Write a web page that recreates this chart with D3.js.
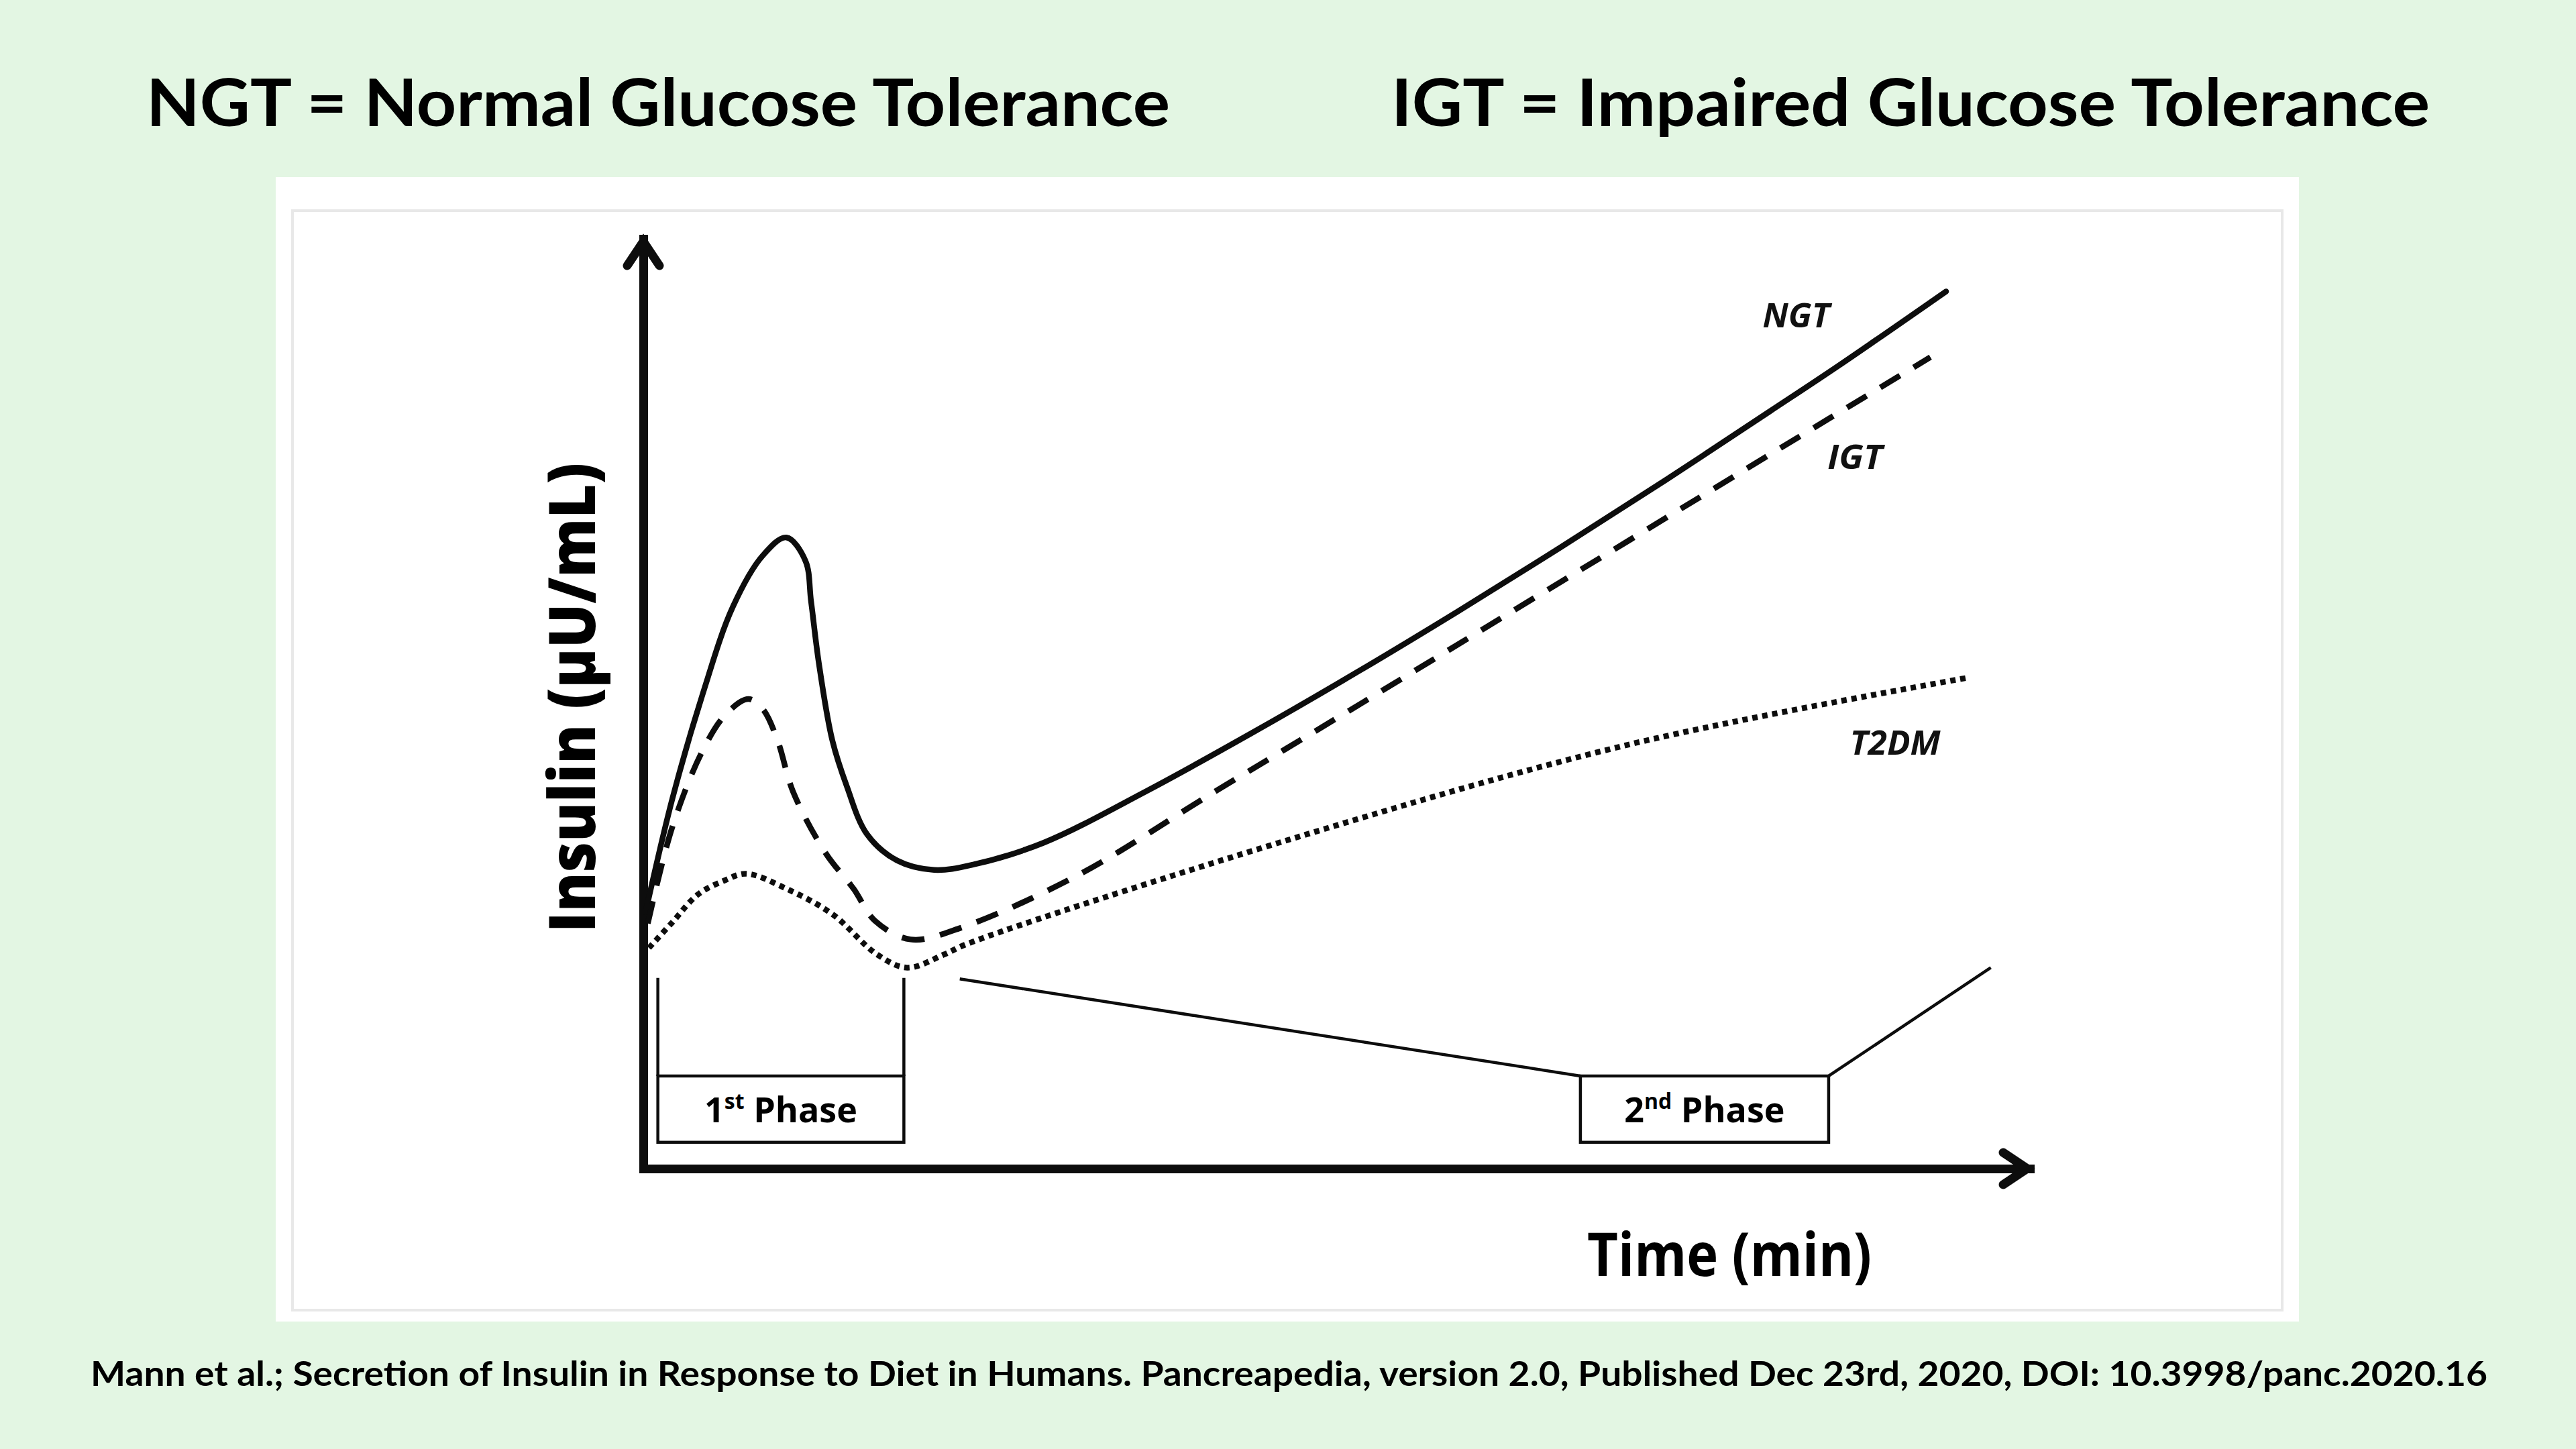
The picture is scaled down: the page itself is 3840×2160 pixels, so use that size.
<!DOCTYPE html>
<html><head><meta charset="utf-8">
<script src="https://cdn.jsdelivr.net/npm/d3@7"></script>
<style>html,body{margin:0;padding:0;background:#e3f6e3;}svg{display:block;}</style>
</head><body><svg id="c" width="3840" height="2160"></svg>
<script>
// ---------- data ----------
const titles = ["NGT = Normal Glucose Tolerance", "IGT = Impaired Glucose Tolerance"];
const yLabel = "Insulin (\u00B5U/mL)";
const xLabel = "Time (min)";
const footer = "Mann et al.; Secretion of Insulin in Response to Diet in Humans. Pancreapedia, version 2.0, Published Dec 23rd, 2020, DOI: 10.3998/panc.2020.16";
const seriesNames = ["NGT", "IGT", "T2DM"];

const ngtTime    = [0.2, 2.6, 5.3, 8.0, 10.7, 12.8, 14.5, 15.0, 15.7, 16.9, 18.2, 20.0, 22.7, 26.0, 29.6, 35.8, 45.0, 54.3, 63.6, 72.8, 82.1, 91.4, 100.7, 106.9, 116.5];
const ngtInsulin = [27.3, 39.4, 50.5, 59.8, 65.3, 67.2, 64.7, 60.4, 53.8, 45.6, 40.7, 35.6, 32.8, 31.8, 32.4, 34.7, 40.2, 46.3, 52.7, 59.3, 66.2, 73.3, 80.6, 85.5, 93.4];

const igtTime    = [0.4, 2.6, 5.3, 7.4, 9.4, 10.7, 12.0, 13.4, 16.3, 18.8, 20.7, 23.9, 28.3, 38.8, 51.2, 63.6, 76.0, 88.3, 100.7, 115.1];
const igtInsulin = [26.1, 36.4, 44.5, 48.4, 50.0, 48.9, 45.6, 40.1, 33.6, 29.8, 26.4, 24.4, 25.6, 31.2, 40.2, 49.1, 58.1, 67.0, 76.0, 86.4];

const t2dmTime    = [0.5, 2.5, 4.9, 7.3, 9.2, 12.8, 16.9, 20.9, 23.6, 26.9, 28.9, 57.4, 88.3, 118.6];
const t2dmInsulin = [23.5, 26.1, 29.2, 30.7, 31.4, 29.8, 27.1, 22.8, 21.4, 22.8, 23.9, 34.9, 45.2, 52.3];

const phaseNums = ["1", "2"];
const phaseSups = ["st", "nd"];
const phaseStart = [1.3, 83.8];
const phaseEnd   = [23.3, 106.0];

// ---------- layout ----------
const svg = d3.select("#c");
const x = d3.scaleLinear().domain([0, 124]).range([959, 3026]);
const y = d3.scaleLinear().domain([0, 99]).range([1742, 356]);
const INK = "#0d0d0d";

svg.append("rect").attr("width", 3840).attr("height", 2160).attr("fill", "#e3f6e3");
svg.append("rect").attr("x", 411).attr("y", 264).attr("width", 3016).attr("height", 1706).attr("fill", "#ffffff");
svg.append("rect").attr("x", 436).attr("y", 314).attr("width", 2966).attr("height", 1639)
  .attr("fill", "none").attr("stroke", "#e8e8e8").attr("stroke-width", 4);

// titles
const titleX = [218, 2074], titleW = [1526, 1548];
titles.forEach((t, i) => {
  svg.append("text").attr("x", titleX[i]).attr("y", 188).text(t)
    .attr("font-family", "Lato, 'Open Sans', sans-serif").attr("font-weight", 700)
    .attr("font-size", 98).attr("fill", "#000")
    .attr("textLength", titleW[i]).attr("lengthAdjust", "spacingAndGlyphs");
});

// footer
svg.append("text").attr("x", 135).attr("y", 2066).text(footer)
  .attr("font-family", "Lato, 'Open Sans', sans-serif").attr("font-weight", 700)
  .attr("font-size", 52).attr("fill", "#000")
  .attr("textLength", 3573).attr("lengthAdjust", "spacingAndGlyphs");

// axes (no ticks)
const gx = svg.append("g").attr("transform", `translate(0,${y(0)})`)
  .call(d3.axisBottom(x).tickValues([]).tickSizeOuter(0));
const gy = svg.append("g").attr("transform", `translate(${x(0)},0)`)
  .call(d3.axisLeft(y).tickValues([]).tickSizeOuter(0));
[gx, gy].forEach(g => g.select(".domain").attr("stroke", INK).attr("stroke-width", 13).attr("stroke-linecap", "square"));

// arrowheads
const ah = 40, aw = 24;
svg.append("path").attr("d", d3.line()([[x(0) - aw, y(99) + ah], [x(0), y(99) + 4], [x(0) + aw, y(99) + ah]]))
  .attr("fill", "none").attr("stroke", INK).attr("stroke-width", 13).attr("stroke-linecap", "round").attr("stroke-linejoin", "miter");
svg.append("path").attr("d", d3.line()([[x(124) - ah, y(0) - aw], [x(124) - 4, y(0)], [x(124) - ah, y(0) + aw]]))
  .attr("fill", "none").attr("stroke", INK).attr("stroke-width", 13).attr("stroke-linecap", "round").attr("stroke-linejoin", "miter");

// axis labels
svg.append("text").attr("transform", "translate(887,1040) rotate(-90)").attr("text-anchor", "middle")
  .text(yLabel).attr("font-family", "'Open Sans', sans-serif").attr("font-weight", 800)
  .attr("font-size", 95).attr("fill", "#000")
  .attr("textLength", 700).attr("lengthAdjust", "spacingAndGlyphs");
svg.append("text").attr("x", 2366).attr("y", 1902).text(xLabel)
  .attr("font-family", "'Open Sans', sans-serif").attr("font-weight", 700)
  .attr("font-size", 90).attr("fill", "#000")
  .attr("textLength", 424).attr("lengthAdjust", "spacingAndGlyphs");

// curves
const line = d3.line().x(d => x(d[0])).y(d => y(d[1])).curve(d3.curveCatmullRom.alpha(0.5));
const zipS = (a, b) => a.map((v, i) => [v, b[i]]);
const series = [
  {name: seriesNames[0], pts: zipS(ngtTime, ngtInsulin), dash: null, cap: "round"},
  {name: seriesNames[1], pts: zipS(igtTime, igtInsulin), dash: "34,24", cap: "butt"},
  {name: seriesNames[2], pts: zipS(t2dmTime, t2dmInsulin), dash: "8,7", cap: "butt"}
];
series.forEach(s => {
  svg.append("path").attr("d", line(s.pts)).attr("fill", "none").attr("stroke", INK)
    .attr("stroke-width", 8.5).attr("stroke-dasharray", s.dash).attr("stroke-linecap", s.cap);
});

// series labels
const labelAnchors = [[100.1, 89.6], [105.9, 74.5], [107.9, 44.1]];
const labelW = [100, 82, 135];
seriesNames.forEach((n, i) => {
  svg.append("text").attr("x", x(labelAnchors[i][0])).attr("y", y(labelAnchors[i][1])).text(n)
    .attr("font-family", "'Open Sans', sans-serif").attr("font-weight", 700).attr("font-style", "italic")
    .attr("font-size", 50).attr("fill", "#111")
    .attr("textLength", labelW[i]).attr("lengthAdjust", "spacingAndGlyphs");
});

// phase brackets
const thin = 4.5;
const boxTop = 9.86, boxBot = 2.8, tickTop = 20.3;
phaseNums.forEach((num, i) => {
  const x0 = x(phaseStart[i]), x1 = x(phaseEnd[i]);
  svg.append("rect").attr("x", x0).attr("y", y(boxTop)).attr("width", x1 - x0).attr("height", y(boxBot) - y(boxTop))
    .attr("fill", "#fff").attr("stroke", INK).attr("stroke-width", thin);
  const t = svg.append("text").attr("x", (x0 + x1) / 2).attr("y", 1673).attr("text-anchor", "middle")
    .attr("font-family", "'Open Sans', sans-serif").attr("font-weight", 700).attr("font-size", 52).attr("fill", "#000");
  t.append("tspan").text(num);
  t.append("tspan").text(phaseSups[i]).attr("font-size", 32).attr("dy", -20);
  t.append("tspan").text(" Phase").attr("dy", 20);
});
// 1st phase verticals
[phaseStart[0], phaseEnd[0]].forEach(tv => {
  svg.append("line").attr("x1", x(tv)).attr("x2", x(tv)).attr("y1", y(tickTop)).attr("y2", y(boxTop))
    .attr("stroke", INK).attr("stroke-width", thin);
});
// 2nd phase wings
svg.append("path").attr("d", d3.line()([[x(28.3), y(20.2)], [x(phaseStart[1]), y(boxTop)]]))
  .attr("fill", "none").attr("stroke", INK).attr("stroke-width", thin);
svg.append("path").attr("d", d3.line()([[x(phaseEnd[1]), y(boxTop)], [x(120.5), y(21.4)]]))
  .attr("fill", "none").attr("stroke", INK).attr("stroke-width", thin);
</script></body></html>
